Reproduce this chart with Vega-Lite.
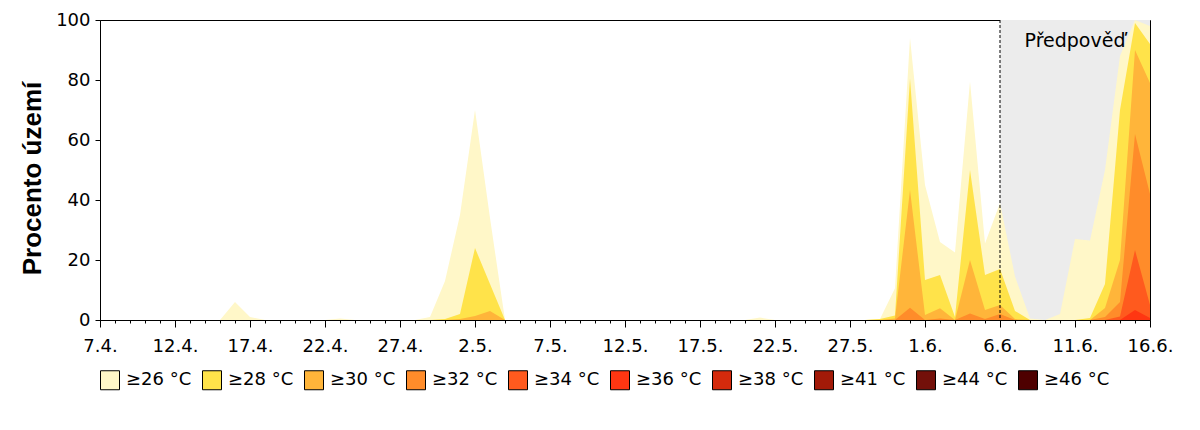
{
  "$schema": "https://vega.github.io/schema/vega-lite/v6.json",
  "width": 1050,
  "height": 300,
  "autosize": {"type": "none"},
  "padding": {"left": 100, "top": 20, "right": 50, "bottom": 110},
  "datasets": {
    "temps": [
      {"d": "2024-04-07", "t": "≥26 °C", "v": 0},
      {"d": "2024-04-15", "t": "≥26 °C", "v": 0},
      {"d": "2024-04-16", "t": "≥26 °C", "v": 6},
      {"d": "2024-04-17", "t": "≥26 °C", "v": 1},
      {"d": "2024-04-18", "t": "≥26 °C", "v": 0},
      {"d": "2024-04-22", "t": "≥26 °C", "v": 0},
      {"d": "2024-04-23", "t": "≥26 °C", "v": 0.5},
      {"d": "2024-04-24", "t": "≥26 °C", "v": 0},
      {"d": "2024-04-28", "t": "≥26 °C", "v": 0},
      {"d": "2024-04-29", "t": "≥26 °C", "v": 1},
      {"d": "2024-04-30", "t": "≥26 °C", "v": 13},
      {"d": "2024-05-01", "t": "≥26 °C", "v": 35},
      {"d": "2024-05-02", "t": "≥26 °C", "v": 70},
      {"d": "2024-05-03", "t": "≥26 °C", "v": 34},
      {"d": "2024-05-04", "t": "≥26 °C", "v": 0},
      {"d": "2024-05-20", "t": "≥26 °C", "v": 0},
      {"d": "2024-05-21", "t": "≥26 °C", "v": 0.8},
      {"d": "2024-05-22", "t": "≥26 °C", "v": 0},
      {"d": "2024-05-28", "t": "≥26 °C", "v": 0},
      {"d": "2024-05-29", "t": "≥26 °C", "v": 0.3},
      {"d": "2024-05-30", "t": "≥26 °C", "v": 10.6},
      {"d": "2024-05-31", "t": "≥26 °C", "v": 94},
      {"d": "2024-06-01", "t": "≥26 °C", "v": 45},
      {"d": "2024-06-02", "t": "≥26 °C", "v": 26},
      {"d": "2024-06-03", "t": "≥26 °C", "v": 22.5},
      {"d": "2024-06-04", "t": "≥26 °C", "v": 79.5},
      {"d": "2024-06-05", "t": "≥26 °C", "v": 25.5},
      {"d": "2024-06-06", "t": "≥26 °C", "v": 39},
      {"d": "2024-06-07", "t": "≥26 °C", "v": 14.5},
      {"d": "2024-06-08", "t": "≥26 °C", "v": 0.5},
      {"d": "2024-06-09", "t": "≥26 °C", "v": 0},
      {"d": "2024-06-10", "t": "≥26 °C", "v": 2},
      {"d": "2024-06-11", "t": "≥26 °C", "v": 27},
      {"d": "2024-06-12", "t": "≥26 °C", "v": 26.5},
      {"d": "2024-06-13", "t": "≥26 °C", "v": 50},
      {"d": "2024-06-14", "t": "≥26 °C", "v": 88},
      {"d": "2024-06-15", "t": "≥26 °C", "v": 100},
      {"d": "2024-06-16", "t": "≥26 °C", "v": 98},

      {"d": "2024-04-29", "t": "≥28 °C", "v": 0},
      {"d": "2024-04-30", "t": "≥28 °C", "v": 0.3},
      {"d": "2024-05-01", "t": "≥28 °C", "v": 2},
      {"d": "2024-05-02", "t": "≥28 °C", "v": 24},
      {"d": "2024-05-03", "t": "≥28 °C", "v": 12},
      {"d": "2024-05-04", "t": "≥28 °C", "v": 0},
      {"d": "2024-05-28", "t": "≥28 °C", "v": 0},
      {"d": "2024-05-29", "t": "≥28 °C", "v": 0.3},
      {"d": "2024-05-30", "t": "≥28 °C", "v": 1.5},
      {"d": "2024-05-31", "t": "≥28 °C", "v": 80.5},
      {"d": "2024-06-01", "t": "≥28 °C", "v": 13.3},
      {"d": "2024-06-02", "t": "≥28 °C", "v": 15},
      {"d": "2024-06-03", "t": "≥28 °C", "v": 1},
      {"d": "2024-06-04", "t": "≥28 °C", "v": 50},
      {"d": "2024-06-05", "t": "≥28 °C", "v": 15},
      {"d": "2024-06-06", "t": "≥28 °C", "v": 17},
      {"d": "2024-06-07", "t": "≥28 °C", "v": 3},
      {"d": "2024-06-08", "t": "≥28 °C", "v": 0},
      {"d": "2024-06-11", "t": "≥28 °C", "v": 0},
      {"d": "2024-06-12", "t": "≥28 °C", "v": 0.7},
      {"d": "2024-06-13", "t": "≥28 °C", "v": 12},
      {"d": "2024-06-14", "t": "≥28 °C", "v": 70},
      {"d": "2024-06-15", "t": "≥28 °C", "v": 99},
      {"d": "2024-06-16", "t": "≥28 °C", "v": 92},

      {"d": "2024-04-30", "t": "≥30 °C", "v": 0},
      {"d": "2024-05-01", "t": "≥30 °C", "v": 0.3},
      {"d": "2024-05-02", "t": "≥30 °C", "v": 1.3},
      {"d": "2024-05-03", "t": "≥30 °C", "v": 3},
      {"d": "2024-05-04", "t": "≥30 °C", "v": 0},
      {"d": "2024-05-29", "t": "≥30 °C", "v": 0},
      {"d": "2024-05-30", "t": "≥30 °C", "v": 0.5},
      {"d": "2024-05-31", "t": "≥30 °C", "v": 43.3},
      {"d": "2024-06-01", "t": "≥30 °C", "v": 1.7},
      {"d": "2024-06-02", "t": "≥30 °C", "v": 3.9},
      {"d": "2024-06-03", "t": "≥30 °C", "v": 0},
      {"d": "2024-06-04", "t": "≥30 °C", "v": 20},
      {"d": "2024-06-05", "t": "≥30 °C", "v": 3.3},
      {"d": "2024-06-06", "t": "≥30 °C", "v": 5},
      {"d": "2024-06-07", "t": "≥30 °C", "v": 0.3},
      {"d": "2024-06-08", "t": "≥30 °C", "v": 0},
      {"d": "2024-06-12", "t": "≥30 °C", "v": 0},
      {"d": "2024-06-13", "t": "≥30 °C", "v": 4},
      {"d": "2024-06-14", "t": "≥30 °C", "v": 20},
      {"d": "2024-06-15", "t": "≥30 °C", "v": 90},
      {"d": "2024-06-16", "t": "≥30 °C", "v": 79},

      {"d": "2024-05-30", "t": "≥32 °C", "v": 0},
      {"d": "2024-05-31", "t": "≥32 °C", "v": 4.1},
      {"d": "2024-06-01", "t": "≥32 °C", "v": 0},
      {"d": "2024-06-02", "t": "≥32 °C", "v": 0.5},
      {"d": "2024-06-03", "t": "≥32 °C", "v": 0},
      {"d": "2024-06-04", "t": "≥32 °C", "v": 2.2},
      {"d": "2024-06-05", "t": "≥32 °C", "v": 0.3},
      {"d": "2024-06-06", "t": "≥32 °C", "v": 2},
      {"d": "2024-06-07", "t": "≥32 °C", "v": 0},
      {"d": "2024-06-12", "t": "≥32 °C", "v": 0},
      {"d": "2024-06-13", "t": "≥32 °C", "v": 1},
      {"d": "2024-06-14", "t": "≥32 °C", "v": 6},
      {"d": "2024-06-15", "t": "≥32 °C", "v": 62},
      {"d": "2024-06-16", "t": "≥32 °C", "v": 42},

      {"d": "2024-06-13", "t": "≥34 °C", "v": 0},
      {"d": "2024-06-14", "t": "≥34 °C", "v": 1.2},
      {"d": "2024-06-15", "t": "≥34 °C", "v": 23.3},
      {"d": "2024-06-16", "t": "≥34 °C", "v": 5},

      {"d": "2024-06-14", "t": "≥36 °C", "v": 0},
      {"d": "2024-06-15", "t": "≥36 °C", "v": 3.3},
      {"d": "2024-06-16", "t": "≥36 °C", "v": 0.7}
    ],
    "forecast": [{"d": "2024-06-06", "d2": "2024-06-16"}],
    "note": [{"d": "2024-06-11", "v": 91, "label": "Předpověď"}]
  },
  "encoding": {
    "x": {
      "field": "d",
      "type": "temporal",
      "scale": {"type": "utc", "domain": ["2024-04-07", "2024-06-16"], "nice": false},
      "axis": {
        "title": null,
        "grid": false,
        "tickCount": {"interval": "day", "step": 1},
        "labelExpr": "(round((datum.value - utc(2024,3,7))/864e5) % 5 === 0) ? utcFormat(datum.value, '%-d.%-m.') : ''",
        "tickSize": {"condition": {"test": "round((datum.value - utc(2024,3,7))/864e5) % 5 === 0", "value": 7}, "value": 3},
        "labelPadding": 10,
        "labelOverlap": false,
        "labelFlush": false
      }
    }
  },
  "layer": [
    {
      "data": {"name": "forecast"},
      "mark": {"type": "rect", "color": "#ececec"},
      "encoding": {"x2": {"field": "d2"}}
    },
    {
      "data": {"name": "temps"},
      "mark": {"type": "area", "opacity": 1, "interpolate": "linear"},
      "encoding": {
        "y": {
          "field": "v",
          "type": "quantitative",
          "stack": null,
          "scale": {"domain": [0, 100], "nice": false},
          "axis": {
            "title": "Procento území",
            "values": [0, 20, 40, 60, 80, 100],
            "grid": false,
            "tickSize": 5,
            "labelPadding": 5,
            "titlePadding": 10,
            "titleY": 158,
            "titleFont": "Liberation Sans",
            "titleFontSize": 26,
            "titleFontWeight": "bold",
            "labelFlush": false
          }
        },
        "color": {
          "field": "t",
          "type": "nominal",
          "sort": null,
          "scale": {
            "domain": ["≥26 °C", "≥28 °C", "≥30 °C", "≥32 °C", "≥34 °C", "≥36 °C", "≥38 °C", "≥41 °C", "≥44 °C", "≥46 °C"],
            "range": ["#fff7c8", "#ffe34a", "#ffb53a", "#ff8c2a", "#ff5a1e", "#ff3612", "#d42a0c", "#a21a08", "#73100a", "#4e0000"]
          },
          "legend": {
            "title": null,
            "orient": "none",
            "legendX": 0,
            "legendY": 350,
            "direction": "horizontal",
            "symbolType": "square",
            "symbolSize": 361,
            "symbolStrokeColor": "black",
            "symbolStrokeWidth": 1,
            "symbolOpacity": 1,
            "labelFontSize": 18,
            "labelOffset": 6,
            "columnPadding": 8
          }
        }
      }
    },
    {
      "data": {"name": "forecast"},
      "mark": {"type": "rule", "color": "black", "strokeWidth": 1, "strokeDash": [3, 2]},
      "encoding": {}
    },
    {
      "data": {"name": "note"},
      "mark": {"type": "text", "font": "DejaVu Sans", "fontSize": 19, "align": "center", "baseline": "alphabetic", "color": "black"},
      "encoding": {
        "y": {"field": "v", "type": "quantitative"},
        "text": {"field": "label"}
      }
    }
  ],
  "config": {
    "font": "DejaVu Sans",
    "view": {"stroke": "black", "strokeWidth": 1},
    "axis": {
      "domainColor": "black",
      "tickColor": "black",
      "labelColor": "black",
      "titleColor": "black",
      "labelFontSize": 18,
      "labelFont": "DejaVu Sans"
    },
    "legend": {"labelColor": "black", "labelFont": "DejaVu Sans"}
  }
}
